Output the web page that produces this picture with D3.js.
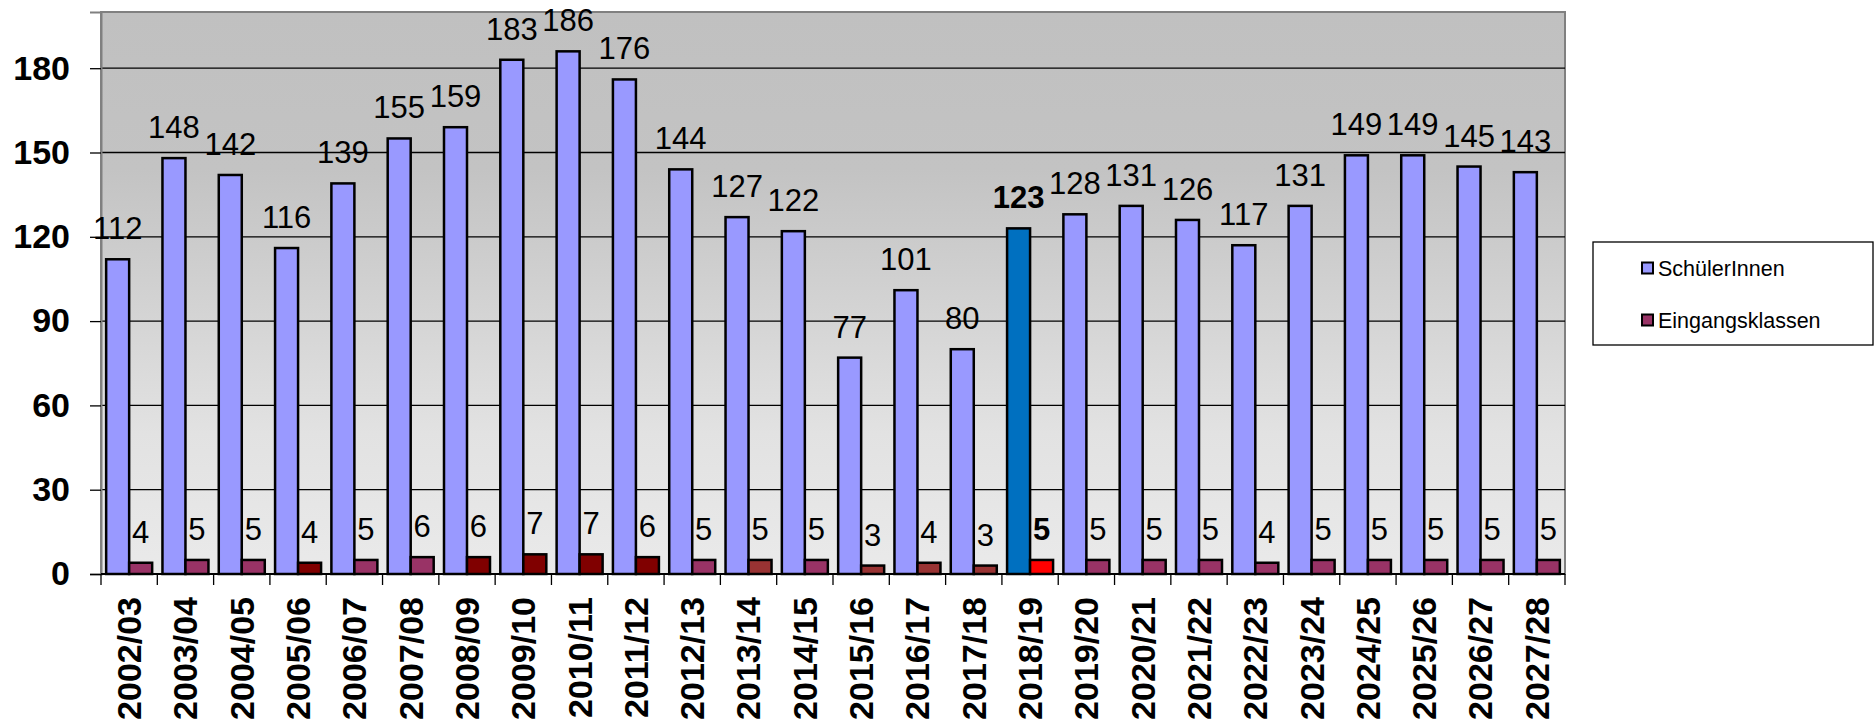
<!DOCTYPE html>
<html>
<head>
<meta charset="utf-8">
<script src="https://cdn.jsdelivr.net/npm/d3@7"></script>
<style>
  body { margin: 0; background: #fff; }
  svg { display: block; font-family: "Liberation Sans", Arial, sans-serif; }
</style>
</head>
<body>
<div class="box"></div>
<script>
// DATA
const years = ['2002/03', '2003/04', '2004/05', '2005/06', '2006/07', '2007/08', '2008/09',
  '2009/10', '2010/11', '2011/12', '2012/13', '2013/14', '2014/15', '2015/16', '2016/17',
  '2017/18', '2018/19', '2019/20', '2020/21', '2021/22', '2022/23', '2023/24', '2024/25',
  '2025/26', '2026/27', '2027/28'];
const schueler = [112, 148, 142, 116, 139, 155, 159, 183, 186, 176, 144, 127, 122, 77, 101,
  80, 123, 128, 131, 126, 117, 131, 149, 149, 145, 143];
const klassen = [4, 5, 5, 4, 5, 6, 6, 7, 7, 6, 5, 5, 5, 3, 4, 3, 5, 5, 5, 5, 4, 5, 5, 5, 5, 5];
const yTicks = [0, 30, 60, 90, 120, 150, 180];
const seriesNames = ['SchülerInnen', 'Eingangsklassen'];
const currentYear = '2018/19';

// colours for the Eingangsklassen bars, by year
const darkRedYears = ['2005/06', '2008/09', '2009/10', '2010/11', '2011/12'];
const brownYears = ['2013/14', '2015/16', '2016/17', '2017/18'];

function klassenColor(yr) {
  if (yr === currentYear) return '#ff0000';
  if (darkRedYears.includes(yr)) return '#800000';
  if (brownYears.includes(yr)) return '#993333';
  return '#993366';
}

const W = 1875, H = 726;
const plotL = 101, plotR = 1565, plotT = 12, plotB = 574;

const svg = d3.select('.box').append('svg')
  .attr('width', W)
  .attr('height', H);

const x = d3.scaleBand().domain(years).range([plotL, plotR]);
const xs = d3.scaleBand().domain(['s', 'e']).range([0, x.bandwidth()]).paddingOuter(0.224);
const y = d3.scaleLinear().domain([0, 200]).range([plotB, plotT]);

// background gradient
const grad = svg.append('defs').append('linearGradient')
  .attr('id', 'bg').attr('x1', 0).attr('y1', 0).attr('x2', 0).attr('y2', 1);
grad.append('stop').attr('offset', '0%').attr('stop-color', '#c0c0c0');
grad.append('stop').attr('offset', '28%').attr('stop-color', '#c3c3c3');
grad.append('stop').attr('offset', '75%').attr('stop-color', '#e2e2e2');
grad.append('stop').attr('offset', '100%').attr('stop-color', '#eaeaea');

svg.append('rect')
  .attr('x', plotL).attr('y', plotT)
  .attr('width', plotR - plotL).attr('height', plotB - plotT)
  .attr('fill', 'url(#bg)')
  .attr('stroke', '#808080')
  .attr('stroke-width', 2);

// gridlines
svg.append('g')
  .selectAll('line')
  .data(yTicks.filter(d => d > 0))
  .join('line')
  .attr('x1', plotL).attr('x2', plotR)
  .attr('y1', d => y(d)).attr('y2', d => y(d))
  .attr('stroke', '#000')
  .attr('stroke-width', 1.3);

// y axis
const yAxis = svg.append('g')
  .attr('transform', `translate(${plotL},0)`)
  .call(d3.axisLeft(y).tickValues(yTicks).tickSize(11).tickPadding(20));
yAxis.select('.domain').attr('stroke', '#808080').attr('stroke-width', 2);
yAxis.selectAll('.tick line').attr('stroke', '#000').attr('stroke-width', 1.3);
yAxis.selectAll('.tick text')
  .attr('font-size', 34).attr('font-weight', 'bold').attr('fill', '#000')
  .attr('font-family', '"Liberation Sans", Arial, sans-serif');

// bars
const groups = svg.append('g')
  .selectAll('g')
  .data(years)
  .join('g')
  .attr('transform', d => `translate(${x(d)},0)`);

groups.append('rect')
  .attr('x', xs('s'))
  .attr('width', xs.bandwidth())
  .attr('y', (d, i) => y(schueler[i]))
  .attr('height', (d, i) => y(0) - y(schueler[i]))
  .attr('fill', d => d === currentYear ? '#0070c0' : '#9999ff')
  .attr('stroke', '#000')
  .attr('stroke-width', 2.5);

groups.append('rect')
  .attr('x', xs('e'))
  .attr('width', xs.bandwidth())
  .attr('y', (d, i) => y(klassen[i]))
  .attr('height', (d, i) => y(0) - y(klassen[i]))
  .attr('fill', d => klassenColor(d))
  .attr('stroke', '#000')
  .attr('stroke-width', 2.5);

// value labels
groups.append('text')
  .attr('x', xs('s') + xs.bandwidth() / 2)
  .attr('y', (d, i) => y(schueler[i]) - 20)
  .attr('text-anchor', 'middle')
  .attr('font-size', 31)
  .attr('font-weight', d => d === currentYear ? 'bold' : 'normal')
  .text((d, i) => schueler[i]);

groups.append('text')
  .attr('x', xs('e') + xs.bandwidth() / 2)
  .attr('y', (d, i) => y(klassen[i]) - 20)
  .attr('text-anchor', 'middle')
  .attr('font-size', 31)
  .attr('font-weight', d => d === currentYear ? 'bold' : 'normal')
  .text((d, i) => klassen[i]);

// x axis
svg.append('g')
  .selectAll('line')
  .data(years.concat(['end']))
  .join('line')
  .attr('x1', (d, i) => plotL + i * x.step())
  .attr('x2', (d, i) => plotL + i * x.step())
  .attr('y1', plotB).attr('y2', plotB + 11)
  .attr('stroke', '#000')
  .attr('stroke-width', 1.3);

svg.append('line')
  .attr('x1', plotL).attr('x2', plotR)
  .attr('y1', plotB).attr('y2', plotB)
  .attr('stroke', '#000')
  .attr('stroke-width', 2);

svg.append('g')
  .selectAll('text')
  .data(years)
  .join('text')
  .attr('transform', d => `translate(${x(d) + x.bandwidth() / 2},597) rotate(-90)`)
  .attr('text-anchor', 'end')
  .attr('dy', '0.35em')
  .attr('font-size', 34)
  .attr('font-weight', 'bold')
  .text(d => d);

// legend
const legend = svg.append('g');
legend.append('rect')
  .attr('x', 1593).attr('y', 242)
  .attr('width', 280).attr('height', 103)
  .attr('fill', '#fff')
  .attr('stroke', '#000')
  .attr('stroke-width', 1.3);

const items = legend.selectAll('g')
  .data(seriesNames)
  .join('g')
  .attr('transform', (d, i) => `translate(1642,${268 + i * 52})`);

items.append('rect')
  .attr('x', 0).attr('y', -5.5)
  .attr('width', 11).attr('height', 11)
  .attr('fill', (d, i) => i === 0 ? '#9999ff' : '#993366')
  .attr('stroke', '#000')
  .attr('stroke-width', 2);

items.append('text')
  .attr('x', 16)
  .attr('dy', '0.35em')
  .attr('font-size', 21.5)
  .text(d => d);
</script>
</body>
</html>
